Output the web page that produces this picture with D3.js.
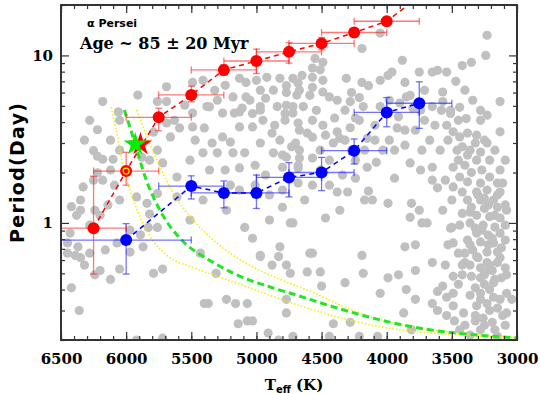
<!DOCTYPE html>
<html>
<head>
<meta charset="utf-8">
<script src="https://cdn.jsdelivr.net/npm/d3@7"></script>
<style>
  body { margin: 0; background: #fff; }
  svg text { fill: #000; }
</style>
</head>
<body>
<svg id="chart" width="540" height="394"></svg>
<script>

// ---- DATA ----
// binned rotation sequences (Teff in K, period in days)
var redTeff    = [6250, 6000, 5750, 5500, 5250, 5000, 4750, 4500, 4250, 4000, 3750];
var redPeriod  = [0.93, 2.04, 4.27, 5.81, 8.19, 9.26, 10.5, 11.8, 13.7, 16.0, 22.5];
var redLow     = [0.495, 1.68, 3.55, 5.29, 7.6, 7.8, 9.0, 10.8, 12.9, 15.2, 22.5];
var redHigh    = [1.90, 2.64, 4.84, 6.56, 8.8, 10.9, 11.9, 12.8, 14.5, 16.8, 22.5];
var redTeffErr = [250, 250, 250, 250, 250, 250, 250, 250, 250, 250, 250];

var blueTeff    = [6000, 5500, 5250, 5000, 4750, 4500, 4250, 4000, 3750];
var bluePeriod  = [0.79, 1.66, 1.51, 1.51, 1.87, 2.00, 2.70, 4.57, 5.18];
var blueLow     = [0.495, 1.39, 1.23, 1.22, 1.43, 1.56, 2.25, 3.75, 3.67];
var blueHigh    = [0.99, 1.91, 1.78, 1.93, 2.29, 2.46, 3.17, 5.6, 6.96];
var blueTeffErr = [500, 250, 250, 250, 250, 250, 250, 250, 250];

// gyrochronology isochrone (green) and its age limits (yellow)
var gyroTeff   = [6014, 5932, 5855, 5740, 5574, 5408, 5331, 5126, 4919, 4689, 4435, 4182, 3921, 3668, 3415, 3000];
var gyroPeriod = [4.72, 2.99, 1.89, 1.19, 0.79, 0.63, 0.58, 0.48, 0.42, 0.37, 0.32, 0.28, 0.25, 0.23, 0.218, 0.206];
var lowTeff    = [6116, 6072, 6022, 5945, 5830, 5663, 5510, 5334, 5126, 4919, 4666, 4305, 4052, 3798, 3537, 3000];
var lowPeriod  = [4.91, 3.43, 2.16, 1.37, 0.867, 0.62, 0.55, 0.49, 0.43, 0.375, 0.32, 0.265, 0.24, 0.225, 0.217, 0.206];
var highTeff   = [5919, 5830, 5740, 5638, 5485, 5331, 5178, 4996, 4819, 4566, 4305, 4052, 3798, 3537, 3000];
var highPeriod = [4.72, 3.13, 2.17, 1.50, 1.04, 0.79, 0.64, 0.53, 0.46, 0.385, 0.31, 0.265, 0.238, 0.224, 0.207];

// the Sun-like marker stars
var starTeff   = [5890, 5930];
var starPeriod = [2.95, 2.95];
var starColor  = ["#ff0000", "#00ee00"];

// cluster members [Teff, period]
var grayStars = [
  [6180,5.3],[5910,5.8],[5690,6.5],[5760,5.3],[5690,5.3],[6060,4.6],[6050,4.1],[6220,3.6],[6250,2.7],[6220,2.5],
  [6180,2.4],[6100,2.4],[6120,2.07],[6220,1.99],[6250,1.8],[6330,1.64],[6180,1.8],[6350,1.37],[6420,1.25],[6350,1.19],
  [6380,1.11],[6430,0.87],[6450,0.76],[6370,0.72],[6450,0.66],[6390,0.64],[6160,0.69],[6070,0.76],[5970,0.67],[5870,0.72],
  [5890,0.85],[5760,0.94],[5820,1.13],[5840,1.31],[5920,1.43],[5760,1.5],[5610,1.88],[5720,2.28],[5820,2.37],[5880,2.47],
  [5760,2.72],[5660,3.26],[5590,3.69],[5690,3.95],[5790,3.48],[5630,4.1],[5490,3.74],[5400,3.69],[5490,4.53],[5360,4.93],
  [5260,4.53],[5170,4.53],[5110,4.85],[4970,4.71],[4950,4.1],[5130,3.74],[5030,3.74],[5260,3.26],[5340,3.0],[5200,3.04],
  [5300,2.62],[5180,2.62],[5090,2.62],[5410,2.62],[4880,3.44],[4820,3.12],[4970,3.0],[4720,4.53],[4770,5.04],[4670,3.58],
  [4700,3.0],[4800,2.54],[4680,2.21],[4870,2.62],[5610,1.43],[5410,1.37],[5510,1.04],[5230,1.19],[5090,0.94],[5030,0.81],
  [4900,1.04],[4740,1.0],[4820,0.72],[4970,0.64],[5830,0.94],[6350,0.62],[6280,0.66],[6420,0.41],[6360,0.3],[6240,0.49],
  [5790,0.5],[5720,0.53],[5400,0.33],[5370,0.33],[5310,0.5],[5230,0.35],[5160,0.33],[5140,0.25],[5070,0.26],[5030,0.26],
  [5070,0.33],[4970,0.63],[4880,0.56],[4830,0.63],[4770,0.56],[4740,0.5],[4770,0.29],[4910,0.22],[4830,0.2],[4720,0.21],
  [5920,0.2],[5720,0.205],[5430,0.66],[4770,0.35],
  [4610,0.51],[4510,0.51],[4500,0.42],[4570,0.66],[4190,0.64],[4180,0.5],[4320,0.44],[4410,0.25],[4280,0.255],[4050,0.38],
  [3990,0.47],[3910,0.49],[3780,0.52],[3850,0.4],[3780,0.35],[3870,0.29],[3810,0.23],[3650,0.58],[4440,0.21],[4210,0.21],[4070,0.21],
  [3610,0.39],[3570,0.42],[3650,0.33],[3540,0.36],[3490,0.32],[3610,0.3],[3540,0.28],[3480,0.26],[3410,0.29],[3400,0.245],
  [3280,0.23],[3150,0.21],[3490,0.48],[3420,0.49],[3350,0.48],[3280,0.47],[3250,0.49],[3180,0.44],[3120,0.47],[3080,0.38],
  [3080,0.29],[3150,0.31],[3230,0.33],[3280,0.38],[3360,0.37],[3310,0.32],[3180,0.36],[3490,0.38],[3400,0.66],[3310,0.63],
  [3230,0.58],[3150,0.58],[3280,0.54],[3420,0.56],
  [4820,7.3],[4720,7.3],[4650,7.6],[4570,7.4],[4490,7.1],[4510,8.2],[4550,9.6],[4490,9.1],[4570,8.4],[4310,7.3],
  [4190,6.9],[4140,6.6],[4270,6.0],[4210,5.6],[4050,7.1],[3990,7.6],[3960,7.95],[3860,6.9],[3880,9.35],[4190,11.0],
  [4050,13.6],[3750,7.95],[3650,7.95],[3610,8.15],[3540,7.95],[3470,7.0],[3420,8.7],[3350,9.1],[3240,10.0],[3230,13.2],
  [4770,6.6],[4670,6.2],[4570,6.45],[4490,6.05],[4440,5.65],[4380,5.4],[4280,5.3],[4180,4.95],[4050,4.95],[3980,5.4],
  [3900,5.2],[3850,5.65],[3800,4.85],[3650,4.95],[3570,6.05],[3570,5.3],[3510,4.7],[3400,6.2],[3340,5.4],[3280,4.7],
  [3230,4.4],[3130,5.3],[4640,4.95],[4540,4.7],
  [5490,6.9],[5410,7.1],[5130,7.3],[5080,6.9],[5000,7.1],[4920,7.4],[4680,6.85],[4970,6.2],[4870,6.2],[4770,6.0],
  [4690,5.8],[5080,5.65],[5180,5.65],[5300,5.4],[5380,4.95],[4970,4.95],[4840,4.95],[4720,4.95],[5130,4.6],[5030,4.5],
  [4780,4.5],[4680,3.95],[4570,4.1],[4490,3.83],[4380,3.5],[4280,3.7],[4360,3.2],[4410,3.0],[4510,2.72],[4670,2.72],
  [4730,2.85],[4570,3.25],[4610,3.44],[4770,2.47],[4670,2.44],[4570,2.44],[4800,2.15],[4680,2.13],[4680,1.73],[4570,1.68],
  [4800,1.57],[4800,1.24],[4470,1.07],[4720,1.0],[4380,1.53],[4300,1.53],[4140,1.55],[4110,1.37],[3990,1.31],[4150,2.15],
  [4080,2.3],[4150,3.2],[3920,3.69],[3910,4.3],[3820,2.28],[3740,2.07],[3730,2.72],[3650,2.15],[3650,1.8],[3550,1.8],
  [3610,1.62],[3810,1.31],[3750,1.19],[3820,1.08],[3730,1.0],[3690,1.0],[3570,1.19],[3500,0.94],[3860,0.72],[3780,0.74],[4590,0.66],
  [3540,3.83],[3490,3.5],[3530,3.12],[3440,3.26],[3380,3.44],[3310,3.34],[3320,3.0],[3420,2.85],[3460,2.72],[3380,2.54],
  [3280,2.65],[3310,2.37],[3400,2.21],[3490,2.15],[3350,2.0],[3270,2.07],[3210,1.88],[3440,1.88],[3380,1.76],[3280,1.73],
  [3150,1.73],[3490,1.64],[3420,1.53],[3310,1.53],[3230,1.57],[3130,1.53],[3380,1.37],[3280,1.37],[3180,1.37],[3350,1.24],
  [3250,1.22],[3150,1.24],[3080,1.19],[3420,1.14],[3310,1.11],[3210,1.09],[3130,1.07],[3360,1.0],[3260,0.97],[3170,0.945],
  [3310,0.87],[3220,0.845],[3130,0.87],[3380,0.79],[3280,0.77],[3180,0.76],[3090,0.79],[3340,0.69],[3230,0.67],[3150,0.67],
  [3450,0.66],[3490,0.76],[3510,0.93],[3280,4.1],[3230,3.0],[3130,3.5],[3110,1.73],[3580,4.7],[3510,4.5],[3440,4.9],
  [3250,0.43],[3320,0.41],[3210,0.4],[3360,0.56],[3190,0.52],[3090,0.54],[3260,0.27],[3190,0.255],[3320,0.26],[3090,0.245],
  [3440,0.23],[3360,0.214],[3220,0.74],[3360,1.16],[3250,1.4],[3450,4.1],[3390,4.2],[4440,2.37],[4270,2.72],[4340,1.93],
  [3980,3.12],[3940,1.85],[4030,2.72],[3860,3.58],[4210,4.1],[4090,3.83],
  [3300,1.47],[3220,1.28],[3170,1.11],[3270,0.905],[3190,0.81],[3120,0.71],[3300,0.62],[3210,0.56],[3130,0.62],[3250,0.51],
  [3170,0.46],[3280,0.35],[3210,0.30],[3130,0.35],[3250,0.245],[3170,0.23],[3320,0.28],[3110,0.28],[3360,0.74],[3320,0.93],
  [3150,1.47],[3090,1.28],[3210,2.37],[3130,2.07],[3360,2.72],[3250,3.12],[3170,2.72],[3090,2.37],[3450,2.37],[3500,1.37],
  [3440,0.97],[3400,0.58],[3450,0.43],[3550,0.56],[3530,0.74],[3090,0.97],[3080,0.49],[3040,0.35],
  [5510,5.78],[5550,5.04],[5320,6.19],[5240,6.63],[5050,5.4],[4930,5.55],[4780,4.1],[4860,3.83],[4590,5.78],[4320,4.71],
  [4240,4.23],[4400,4.23],[4470,3.34],[4320,3.12],[4240,2.37],[4170,2.72],[4090,3.12],[3940,2.72],[3860,2.91],[3780,3.58],
  [3710,4.1],[3670,3.12],[3590,2.72],[3630,3.83],[3740,4.71],[3820,5.78],[3710,6.19],[5470,3.12],[5510,2.37],[5360,2.07],
  [5240,2.07],[5130,2.13],[5010,2.21],[4930,1.93],[5010,1.68],[5130,1.57],[4900,1.47],[5200,1.68],[4510,2.07],[4440,1.68],
  [4240,1.85],[4170,1.37],[4360,1.19],[4630,1.37],
  [6320,3.12],[6280,4.1],[6120,3.12],[6050,2.72],[6090,1.68],[6050,1.37],[6140,1.28],[6240,1.19],[6280,0.97],[6200,1.11],
  [6320,0.56],[6200,0.52],[6120,0.46],[6050,0.53],[5970,0.905]
];

var xMajor = d3.range(6500, 2999, -500);
var xMinor = d3.range(6500, 2999, -100);
var yMajor = [1, 10];
var yMinor = [0.2, 0.3, 0.4, 0.5, 0.6, 0.7, 0.8, 0.9, 2, 3, 4, 5, 6, 7, 8, 9, 20];

// ---- LAYOUT ----
// (no global called "top": that one belongs to window)
var box = { left: 61, right: 517, top: 5, bottom: 340 };

var chart = d3.select('#chart');

var x = d3.scaleLinear().domain([6500, 3000]).range([box.left, box.right]);
var y = d3.scaleLog().domain([0.2, 20]).range([box.bottom, box.top]);

chart.append('defs').append('clipPath')
    .attr('id', 'plot-clip')
    .append('rect')
    .attr('x', box.left).attr('y', box.top)
    .attr('width', box.right - box.left).attr('height', box.bottom - box.top);

var plot = chart.append('g').attr('clip-path', 'url(#plot-clip)');

// gray cluster members
plot.append('g').selectAll('circle')
    .data(grayStars)
    .enter().append('circle')
    .attr('cx', function(d) { return x(d[0]); })
    .attr('cy', function(d) { return y(d[1]); })
    .attr('r', 4.6)
    .attr('fill', '#c0c0c0');

// isochrone curves (x grows as Teff falls, so monotoneX works in pixel space)
var curveLine = d3.line()
    .x(function(d) { return x(d[0]); })
    .y(function(d) { return y(d[1]); })
    .curve(d3.curveMonotoneX);

function pairs(a, b) { return a.map(function(v, i) { return [v, b[i]]; }); }

plot.append('path')
    .attr('d', curveLine(pairs(lowTeff, lowPeriod)))
    .attr('fill', 'none').attr('stroke', '#f5f000')
    .attr('stroke-width', 1.6).attr('stroke-dasharray', '1.5,2');
plot.append('path')
    .attr('d', curveLine(pairs(highTeff, highPeriod)))
    .attr('fill', 'none').attr('stroke', '#f5f000')
    .attr('stroke-width', 1.6).attr('stroke-dasharray', '1.5,2');
plot.append('path')
    .attr('d', curveLine(pairs(gyroTeff, gyroPeriod)))
    .attr('fill', 'none').attr('stroke', '#22e622')
    .attr('stroke-width', 3).attr('stroke-dasharray', '7,4');

// error bars + dashed sequences + points
function drawSequence(teff, per, lo, hi, terr, color, errColor) {
    var g = plot.append('g');
    var cap = 3.5;
    teff.forEach(function(t, i) {
        var cx = x(t), cy = y(per[i]);
        var x0 = x(t + terr[i]), x1 = x(t - terr[i]);
        var y0 = y(lo[i]), y1 = y(hi[i]);
        var e = g.append('g').attr('stroke', errColor).attr('stroke-width', 1.3);
        e.append('line').attr('x1', x0).attr('x2', x1).attr('y1', cy).attr('y2', cy);
        e.append('line').attr('x1', x0).attr('x2', x0).attr('y1', cy - cap).attr('y2', cy + cap);
        e.append('line').attr('x1', x1).attr('x2', x1).attr('y1', cy - cap).attr('y2', cy + cap);
        if (hi[i] > lo[i]) {
            e.append('line').attr('x1', cx).attr('x2', cx).attr('y1', y0).attr('y2', y1);
            e.append('line').attr('x1', cx - cap).attr('x2', cx + cap).attr('y1', y0).attr('y2', y0);
            e.append('line').attr('x1', cx - cap).attr('x2', cx + cap).attr('y1', y1).attr('y2', y1);
        }
    });
    g.append('path')
        .attr('d', d3.line()(teff.map(function(t, i) { return [x(t), y(per[i])]; })))
        .attr('fill', 'none').attr('stroke', color)
        .attr('stroke-width', 1.5).attr('stroke-dasharray', '5,4');
    g.selectAll('circle')
        .data(teff)
        .enter().append('circle')
        .attr('cx', function(d) { return x(d); })
        .attr('cy', function(d, i) { return y(per[i]); })
        .attr('r', 6)
        .attr('fill', color);
    return g;
}

drawSequence(blueTeff, bluePeriod, blueLow, blueHigh, blueTeffErr, '#0000ff', 'rgba(40,40,255,0.65)');
var reds = drawSequence(redTeff, redPeriod, redLow, redHigh, redTeffErr, '#ff0000', 'rgba(255,30,30,0.6)');

// yellow ring on the 6000 K red bin
reds.append('circle')
    .attr('cx', x(redTeff[1])).attr('cy', y(redPeriod[1]))
    .attr('r', 3).attr('fill', 'none')
    .attr('stroke', '#ffee00').attr('stroke-width', 1.2);

// stars
plot.append('g').selectAll('path')
    .data(starTeff)
    .enter().append('path')
    .attr('d', d3.symbol().type(d3.symbolStar).size(170))
    .attr('transform', function(d, i) { return 'translate(' + x(d) + ',' + y(starPeriod[i]) + ')'; })
    .attr('fill', function(d, i) { return starColor[i]; });

// ---- AXES ----
var tickFont = '"DejaVu Serif", serif';

function styleAxis(g) {
    g.select('.domain').remove();
    g.selectAll('line').attr('stroke', '#333').attr('stroke-width', 1.2);
    g.selectAll('text').style('font-family', tickFont).style('font-size', '15px').style('font-weight', 'bold');
}

chart.append('g')
    .attr('transform', 'translate(0,' + box.bottom + ')')
    .call(d3.axisBottom(x).tickValues(xMajor).tickSize(-8).tickPadding(13).tickFormat(d3.format('d')))
    .call(styleAxis);
chart.append('g')
    .attr('transform', 'translate(0,' + box.bottom + ')')
    .call(d3.axisBottom(x).tickValues(xMinor).tickSize(-4).tickFormat(''))
    .call(styleAxis);
chart.append('g')
    .attr('transform', 'translate(0,' + box.top + ')')
    .call(d3.axisTop(x).tickValues(xMajor).tickSize(-8).tickFormat(''))
    .call(styleAxis);
chart.append('g')
    .attr('transform', 'translate(0,' + box.top + ')')
    .call(d3.axisTop(x).tickValues(xMinor).tickSize(-4).tickFormat(''))
    .call(styleAxis);

chart.append('g')
    .attr('transform', 'translate(' + box.left + ',0)')
    .call(d3.axisLeft(y).tickValues(yMajor).tickSize(-8).tickPadding(8).tickFormat(d3.format('d')))
    .call(styleAxis);
chart.append('g')
    .attr('transform', 'translate(' + box.left + ',0)')
    .call(d3.axisLeft(y).tickValues(yMinor).tickSize(-4).tickFormat(''))
    .call(styleAxis);
chart.append('g')
    .attr('transform', 'translate(' + box.right + ',0)')
    .call(d3.axisRight(y).tickValues(yMajor).tickSize(-8).tickFormat(''))
    .call(styleAxis);
chart.append('g')
    .attr('transform', 'translate(' + box.right + ',0)')
    .call(d3.axisRight(y).tickValues(yMinor).tickSize(-4).tickFormat(''))
    .call(styleAxis);

// frame
chart.append('rect')
    .attr('x', box.left).attr('y', box.top)
    .attr('width', box.right - box.left).attr('height', box.bottom - box.top)
    .attr('fill', 'none').attr('stroke', '#333').attr('stroke-width', 2);

// ---- LABELS ----
chart.append('text')
    .attr('x', 87).attr('y', 27)
    .style('font-family', '"DejaVu Sans", sans-serif').style('font-weight', 'bold').style('font-size', '11px')
    .text('α Persei');
chart.append('text')
    .attr('x', 80).attr('y', 49)
    .style('font-family', tickFont).style('font-size', '16px').style('font-weight', 'bold')
    .text('Age ~ 85 ± 20 Myr');

chart.append('text')
    .attr('transform', 'translate(24,173) rotate(-90)')
    .attr('text-anchor', 'middle')
    .attr('textLength', 140).attr('lengthAdjust', 'spacing')
    .style('font-family', '"DejaVu Sans", sans-serif').style('font-weight', 'bold').style('font-size', '19px')
    .text('Period(Day)');

var xl = chart.append('text')
    .attr('x', 294).attr('y', 390)
    .attr('text-anchor', 'middle')
    .style('font-family', tickFont).style('font-size', '15px').style('font-weight', 'bold');
xl.append('tspan').text('T');
xl.append('tspan').attr('dy', 3).style('font-family', '"DejaVu Sans", sans-serif')
    .style('font-size', '10px').text('eff');
xl.append('tspan').attr('dy', -3).text(' (K)');

</script>
</body>
</html>
